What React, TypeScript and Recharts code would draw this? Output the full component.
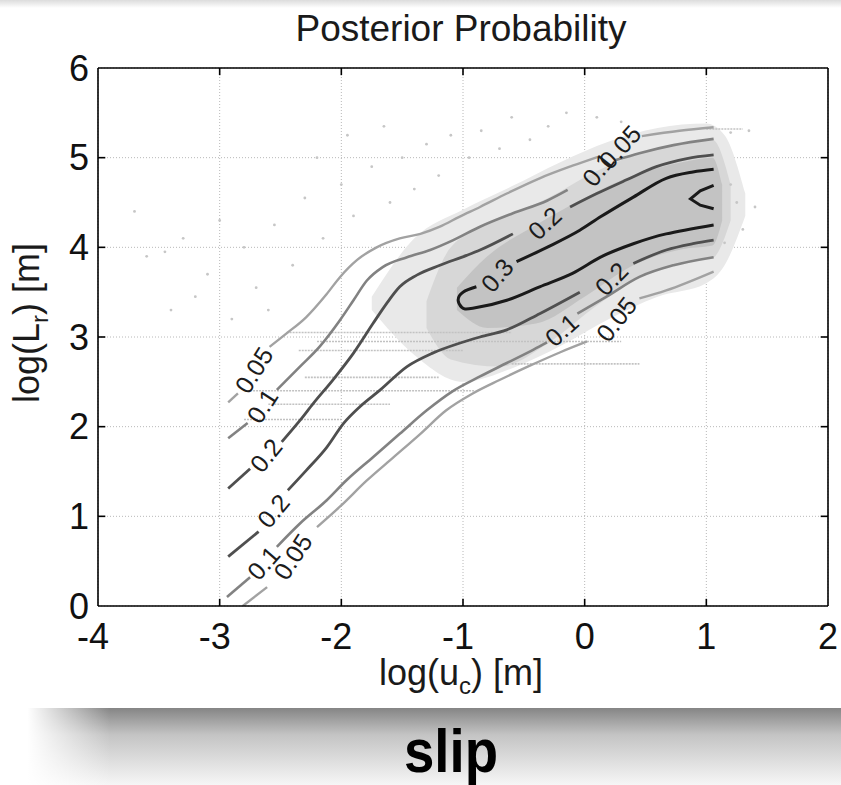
import React from "react";
import {
  Area,
  CartesianGrid,
  ComposedChart,
  Line,
  ReferenceLine,
  Scatter,
  XAxis,
  YAxis,
} from "recharts";

// axes
const xTicks = [-4, -3, -2, -1, 0, 1, 2];
const yTicks = [0, 1, 2, 3, 4, 5, 6];

// contour segments, [log(u_c), log(L_r)]
const up05a = [[-2.93, 2.27], [-2.85, 2.37]];
const up05b = [[-2.59, 2.89], [-2.45, 3.04], [-2.29, 3.22], [-2.12, 3.48], [-2.01, 3.67], [-1.87, 3.86], [-1.71, 4.0], [-1.52, 4.1], [-1.35, 4.15], [-1.19, 4.23], [-1.03, 4.34], [-0.86, 4.45], [-0.64, 4.6], [-0.37, 4.77], [-0.1, 4.91], [0.11, 5.01]];
const up05c = [[0.47, 5.24], [0.78, 5.3], [1.06, 5.34]];

const up1a = [[-2.93, 1.87], [-2.77, 2.04]];
const up1b = [[-2.53, 2.41], [-2.34, 2.67], [-2.18, 2.89], [-2.01, 3.19], [-1.9, 3.41], [-1.79, 3.63], [-1.66, 3.78], [-1.46, 3.89], [-1.27, 3.97], [-1.08, 4.08], [-0.86, 4.23], [-0.59, 4.38], [-0.31, 4.52], [-0.14, 4.64]];
const up1c = [[0.25, 4.97], [0.45, 5.05], [0.73, 5.14], [1.06, 5.21]];

const up2a = [[-2.93, 1.31], [-2.75, 1.53]];
const up2b = [[-2.49, 1.83], [-2.34, 2.07], [-2.23, 2.26], [-2.07, 2.52], [-1.9, 2.82], [-1.74, 3.15], [-1.63, 3.37], [-1.52, 3.56], [-1.38, 3.69], [-1.19, 3.8], [-0.97, 3.91], [-0.86, 3.97], [-0.59, 4.15]];
const up2c = [[-0.12, 4.45], [0.1, 4.6], [0.34, 4.75], [0.59, 4.9], [0.84, 4.99], [1.06, 5.03]];

const up3 = [[-0.56, 3.84], [-0.31, 4.0], [-0.04, 4.19], [0.13, 4.34], [0.4, 4.56], [0.67, 4.77], [0.89, 4.84], [1.06, 4.87]];
const lo3 = [[-0.89, 3.56], [-1.0, 3.5], [-1.04, 3.41], [-1.01, 3.33], [-0.92, 3.32], [-0.64, 3.41], [-0.37, 3.56], [-0.1, 3.71], [0.13, 3.89], [0.4, 4.04], [0.67, 4.15], [1.06, 4.25]];
const peak4 = [[1.06, 4.69], [0.95, 4.63], [0.87, 4.54], [0.95, 4.47], [1.06, 4.43]];

const lo2a = [[-2.93, 0.55], [-2.68, 0.83]];
const lo2b = [[-2.44, 1.29], [-2.29, 1.51], [-2.12, 1.77], [-1.98, 2.04], [-1.85, 2.22], [-1.68, 2.41], [-1.46, 2.67], [-1.25, 2.82], [-1.03, 2.93], [-0.86, 3.0], [-0.64, 3.08], [-0.37, 3.26], [-0.04, 3.5]];
const lo2c = [[0.4, 3.82], [0.67, 3.97], [0.89, 4.04], [1.06, 4.08]];

const lo1a = [[-2.94, 0.1], [-2.75, 0.32]];
const lo1b = [[-2.53, 0.66], [-2.34, 0.92], [-2.12, 1.18], [-1.96, 1.4], [-1.74, 1.66], [-1.52, 1.92], [-1.3, 2.18], [-1.08, 2.4], [-0.86, 2.56], [-0.64, 2.71], [-0.42, 2.86], [-0.31, 2.94]];
const lo1c = [[-0.06, 3.26], [0.18, 3.45], [0.45, 3.67], [0.73, 3.8], [1.06, 3.89]];

const lo05a = [[-2.81, 0.0], [-2.61, 0.21]];
const lo05b = [[-2.2, 0.88], [-2.01, 1.11], [-1.79, 1.4], [-1.57, 1.66], [-1.35, 1.92], [-1.14, 2.18], [-0.92, 2.37], [-0.7, 2.52], [-0.45, 2.68], [-0.2, 2.83], [0.02, 2.95]];
const lo05c = [[0.45, 3.43], [0.67, 3.52], [1.06, 3.73]];

// contour labels: x, y, text, angle
const labelX = [-2.72, -2.65, -2.62, -2.56, -2.64, -2.4, -0.72, -0.33, 0.11, 0.29, 0.22, -0.19, 0.26];
const labelY = [2.63, 2.23, 1.68, 1.06, 0.48, 0.55, 3.69, 4.27, 4.87, 5.12, 3.65, 3.08, 3.2];
const labelText = ["0.05", "0.1", "0.2", "0.2", "0.1", "0.05", "0.3", "0.2", "0.1", "0.05", "0.2", "0.1", "0.05"];
const labelAngle = [-58, -57, -51, -50, -49, -57, -49, -43, -52, -48, -46, -42, -52];

// density cloud of samples: x, [low, high]
const outerX = [-1.75, -1.4, -1.0, -0.6, -0.2, 0.2, 0.6, 1.0, 1.15, 1.32];
const outerLo = [3.3, 2.8, 2.5, 2.65, 2.9, 3.2, 3.45, 3.6, 3.8, 4.35];
const outerHi = [3.45, 4.1, 4.42, 4.68, 4.95, 5.18, 5.33, 5.38, 5.25, 4.6];
const midX = [-1.3, -1.1, -0.7, -0.3, 0.1, 0.5, 0.9, 1.05, 1.2];
const midLo = [3.1, 2.75, 2.67, 2.93, 3.35, 3.7, 3.85, 3.88, 4.3];
const midHi = [3.4, 4.0, 4.31, 4.55, 4.85, 5.07, 5.17, 5.2, 4.7];
const coreX = [-1.05, -0.8, -0.4, 0.0, 0.4, 0.8, 1.05, 1.13];
const coreLo = [3.3, 3.1, 3.15, 3.45, 3.8, 3.98, 4.02, 4.3];
const coreHi = [3.55, 3.9, 4.25, 4.55, 4.8, 4.95, 5.0, 4.7];

// sparse samples
const dotX = [-3.6, -3.45, -3.3, -3.1, -3.0, -2.8, -2.7, -2.55, -2.4, -2.3, -2.15, -2.0, -1.9, -1.75, -1.6, -1.5, -1.4, -1.3, -1.2, -1.1, -0.95, -0.85, -0.7, -0.6, -0.45, -0.3, -0.15, 0.1, 0.3, -3.4, -3.2, -2.9, -2.6, -3.7, -2.2, -1.95, -1.65, 1.2, 1.3, 1.15, 1.25, 1.4, 1.35, 1.2];
const dotY = [3.9, 3.95, 4.1, 3.7, 4.3, 4.0, 3.55, 4.25, 3.8, 4.55, 4.1, 4.7, 4.35, 4.9, 4.5, 5.0, 4.65, 5.15, 4.8, 5.25, 5.0, 5.3, 5.1, 5.45, 5.2, 5.35, 5.5, 5.45, 5.4, 3.3, 3.45, 3.2, 3.3, 4.4, 5.0, 5.25, 5.35, 4.7, 4.2, 4.05, 4.5, 4.45, 5.3, 5.28];

// horizontal streaks of samples: y, x from, x to
const streakY = [3.05, 2.95, 2.85, 2.7, 2.55, 2.4, 2.25, 2.08, 5.32];
const streakX0 = [-2.45, -2.2, -2.35, -0.6, -2.3, -2.75, -2.6, -2.8, 1.0];
const streakX1 = [-0.6, 0.3, -1.0, 0.45, -1.2, -0.9, -1.6, -2.0, 1.3];

const C05 = "#a2a2a2";
const C1 = "#828282";
const C2 = "#4f4f4f";
const C3 = "#1a1a1a";

const pts = (a: number[][]) => a.map(([x, y]) => ({ x, y }));
const band = (xs: number[], lo: number[], hi: number[]) =>
  xs.map((x, i) => ({ x, range: [lo[i], hi[i]] }));

const segments: { d: number[][]; c: string; w: number; t: any }[] = [
  { d: up05a, c: C05, w: 2.4, t: "monotone" },
  { d: up05b, c: C05, w: 2.4, t: "monotone" },
  { d: up05c, c: C05, w: 2.4, t: "monotone" },
  { d: lo05a, c: C05, w: 2.4, t: "monotone" },
  { d: lo05b, c: C05, w: 2.4, t: "monotone" },
  { d: lo05c, c: C05, w: 2.4, t: "monotone" },
  { d: up1a, c: C1, w: 2.6, t: "monotone" },
  { d: up1b, c: C1, w: 2.6, t: "monotone" },
  { d: up1c, c: C1, w: 2.6, t: "monotone" },
  { d: lo1a, c: C1, w: 2.6, t: "monotone" },
  { d: lo1b, c: C1, w: 2.6, t: "monotone" },
  { d: lo1c, c: C1, w: 2.6, t: "monotone" },
  { d: up2a, c: C2, w: 2.8, t: "monotone" },
  { d: up2b, c: C2, w: 2.8, t: "monotone" },
  { d: up2c, c: C2, w: 2.8, t: "monotone" },
  { d: lo2a, c: C2, w: 2.8, t: "monotone" },
  { d: lo2b, c: C2, w: 2.8, t: "monotone" },
  { d: lo2c, c: C2, w: 2.8, t: "monotone" },
  { d: up3, c: C3, w: 3, t: "monotone" },
  { d: lo3, c: C3, w: 3, t: "natural" },
  { d: peak4, c: C3, w: 3, t: "linear" },
];

const FONT = "'Liberation Sans', Arial, Helvetica, sans-serif";

const labelData = labelX.map((x, i) => ({ x, y: labelY[i], text: labelText[i], angle: labelAngle[i] }));
const dotData = dotX.map((x, i) => ({ x, y: dotY[i] }));

const ContourLabel = (p: any) => (
  <text
    x={p.cx}
    y={p.cy}
    transform={`rotate(${p.payload.angle} ${p.cx} ${p.cy})`}
    textAnchor="middle"
    dominantBaseline="central"
    fontSize={25}
    fontFamily={FONT}
    fill="#1c1c1c"
  >
    {p.payload.text}
  </text>
);

const Speck = (p: any) => <circle cx={p.cx} cy={p.cy} r={1.4} fill="#c6c6c6" />;

// matlab draws the negative labels a little left of the tick
const XTick = (p: any) => (
  <text
    x={p.x + (p.payload.value < 0 ? -5 : 0)}
    y={p.y}
    dy="0.71em"
    textAnchor="middle"
    fontSize={36}
    fontFamily={FONT}
    fill="#111"
  >
    {p.payload.value}
  </text>
);

export default function App() {
  return (
    <div
      style={{
        position: "absolute",
        left: 0,
        top: 0,
        width: 841,
        height: 785,
        background: "#fff",
        overflow: "hidden",
      }}
    >
      <ComposedChart width={841} height={700} margin={{ top: 68, right: 13, bottom: 44, left: 0 }}>
        <CartesianGrid stroke="#b8b8b8" strokeDasharray="1 2" />
        <XAxis
          type="number"
          dataKey="x"
          domain={[-4, 2]}
          ticks={xTicks}
          allowDataOverflow
          height={50}
          tickLine={false}
          tickSize={0}
          tickMargin={17}
          axisLine={{ stroke: "#000", strokeWidth: 1.6 }}
          tick={<XTick />}
        />
        <YAxis
          type="number"
          dataKey="y"
          domain={[0, 6]}
          ticks={yTicks}
          allowDataOverflow
          width={98}
          tickLine={false}
          tickSize={0}
          tickMargin={9}
          axisLine={{ stroke: "#000", strokeWidth: 1.6 }}
          tick={{ fontSize: 36, fill: "#111", fontFamily: FONT }}
        />

        <Area data={band(outerX, outerLo, outerHi)} dataKey="range" type="monotone" fill="#e9e9e9" fillOpacity={1} stroke="none" isAnimationActive={false} />
        <Area data={band(midX, midLo, midHi)} dataKey="range" type="monotone" fill="#d7d7d7" fillOpacity={1} stroke="none" isAnimationActive={false} />
        <Area data={band(coreX, coreLo, coreHi)} dataKey="range" type="monotone" fill="#c3c3c3" fillOpacity={1} stroke="none" isAnimationActive={false} />

        {streakY.map((y, i) => (
          <Line
            key={"s" + i}
            data={[{ x: streakX0[i], y }, { x: streakX1[i], y }]}
            dataKey="y"
            type="linear"
            stroke="#c2c2c2"
            strokeWidth={1.6}
            strokeDasharray="2 1"
            dot={false}
            activeDot={false}
            isAnimationActive={false}
          />
        ))}
        <Scatter data={dotData} shape={Speck} isAnimationActive={false} />

        {segments.map((s, i) => (
          <Line
            key={"c" + i}
            data={pts(s.d)}
            dataKey="y"
            type={s.t}
            stroke={s.c}
            strokeWidth={s.w}
            dot={false}
            activeDot={false}
            isAnimationActive={false}
          />
        ))}
        <Scatter data={labelData} shape={ContourLabel} isAnimationActive={false} />

        <ReferenceLine y={6} stroke="#000" strokeWidth={1.6} ifOverflow="visible" />
        <ReferenceLine x={2} stroke="#000" strokeWidth={1.6} ifOverflow="visible" />
        {xTicks.slice(1, -1).map((t) => (
          <ReferenceLine key={"xb" + t} segment={[{ x: t, y: 0 }, { x: t, y: 0.08 }]} stroke="#000" strokeWidth={1.6} />
        ))}
        {xTicks.slice(1, -1).map((t) => (
          <ReferenceLine key={"xt" + t} segment={[{ x: t, y: 6 }, { x: t, y: 5.92 }]} stroke="#000" strokeWidth={1.6} />
        ))}
        {yTicks.slice(1, -1).map((t) => (
          <ReferenceLine key={"yl" + t} segment={[{ x: -4, y: t }, { x: -3.94, y: t }]} stroke="#000" strokeWidth={1.6} />
        ))}
        {yTicks.slice(1, -1).map((t) => (
          <ReferenceLine key={"yr" + t} segment={[{ x: 2, y: t }, { x: 1.94, y: t }]} stroke="#000" strokeWidth={1.6} />
        ))}
      </ComposedChart>

      <svg
        width={841}
        height={785}
        style={{ position: "absolute", left: 0, top: 0, pointerEvents: "none" }}
        fontFamily={FONT}
      >
        <defs>
          <linearGradient id="topStrip" x1="0" y1="0" x2="0" y2="1">
            <stop offset="0" stopColor="#dcdcdc" />
            <stop offset="1" stopColor="#ffffff" />
          </linearGradient>
          <linearGradient id="banner" x1="0" y1="0" x2="0" y2="1">
            <stop offset="0" stopColor="#858585" />
            <stop offset="0.35" stopColor="#c4c4c4" />
            <stop offset="1" stopColor="#f6f6f6" />
          </linearGradient>
          <linearGradient id="leftFade" x1="0" y1="0" x2="1" y2="0">
            <stop offset="0.25" stopColor="#ffffff" stopOpacity={1} />
            <stop offset="1" stopColor="#ffffff" stopOpacity={0} />
          </linearGradient>
        </defs>
        <rect x={0} y={0} width={841} height={8} fill="url(#topStrip)" />
        <rect x={0} y={708} width={841} height={77} fill="url(#banner)" />
        <rect x={0} y={700} width={110} height={85} fill="url(#leftFade)" />

        <text x={461} y={41} textAnchor="middle" fontSize={37} fill="#1a1a1a">
          Posterior Probability
        </text>
        <text x={461} y={685} textAnchor="middle" fontSize={36} fill="#1a1a1a">
          log(u<tspan dy={9} fontSize={24}>c</tspan>
          <tspan dy={-9}>) [m]</tspan>
        </text>
        <text
          x={39}
          y={323}
          textAnchor="middle"
          fontSize={36}
          fill="#1a1a1a"
          transform="rotate(-90 39 323)"
        >
          log(L<tspan dy={9} fontSize={24}>r</tspan>
          <tspan dy={-9}>) [m]</tspan>
        </text>
        <text
          transform="translate(451 772) scale(0.88 1)"
          textAnchor="middle"
          fontSize={62}
          fontWeight="bold"
          fill="#000"
        >
          slip
        </text>
      </svg>
    </div>
  );
}
